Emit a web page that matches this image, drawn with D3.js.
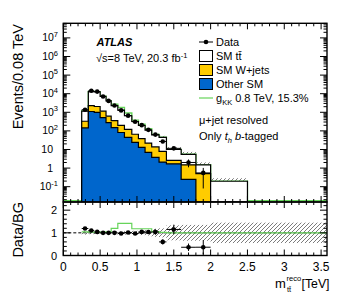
<!DOCTYPE html>
<html>
<head>
<meta charset="utf-8">
<script src="https://d3js.org/d3.v7.min.js"></script>
<style>
body { margin: 0; background: #fff; }
text { font-family: "Liberation Sans", Arial, Helvetica, sans-serif; }
</style>
</head>
<body>
<div id="chart"></div>
<script>
// bin edges in TeV (17 bins)
var edges = [0.25, 0.34, 0.42, 0.50, 0.58, 0.65, 0.74, 0.83, 0.93, 1.02, 1.11, 1.20, 1.30, 1.40, 1.60, 1.80, 2.00, 2.50];
// events / 0.08 TeV
var ttbar = [820, 10700, 10450, 5950, 3480, 1940, 1100, 530, 254, 157, 88, 47, 37, 7.4, 4.0, 1.0, 0.19];
var wjets = [185, 1200, 1050, 630, 340, 210, 118, 75, 42, 25, 15, 10, 5.9, 0.9, 1.25, 0.5, 0.005];
var other = [145, 1100, 1000, 520, 280, 150, 82, 45, 24, 13, 7, 3.8, 2.1, 1.7, 0.25, 0.004, 0.001];
var dataVals = [1370, 14300, 13000, 7100, 4100, 2300, 1260, 660, 310, 203, 114, 63, 27, 11.5, 2.0, 0.55, null];
var dataErr = [35, 114, 108, 80, 61, 46, 34, 24, 17, 13.5, 10, 7.5, 5, 2.1, 0.9, 0.47, null];
// relative syst. uncertainty of the background (hatched band)
var bandRel = [0.08, 0.06, 0.06, 0.06, 0.06, 0.07, 0.07, 0.08, 0.09, 0.10, 0.12, 0.18, 0.20, 0.33, 0.35, 0.35, 0.45];
var tailRel = 0.45;
// (BG + g_KK) / BG
var sigRatio = [1.04, 1.03, 1.03, 1.03, 1.04, 1.20, 1.42, 1.42, 1.18, 1.18, 1.18, 1.05, 1.02, 1.0, 1.0, 1.0, 1.0];
var xTicks = [0, 0.5, 1, 1.5, 2, 2.5, 3, 3.5];
var ratioTicks = [0, 1, 2];

var svg = d3.select("#chart").append("svg").attr("width", 357).attr("height", 302),
    pLeft = 63.3, pRight = 327, pTop = 23.3, pMid = 202, pBottom = 255.5,
    ymin = 0.015, ymax = 6.1e7, xmax = 3.58;

var x = d3.scaleLinear().domain([0, xmax]).range([pLeft, pRight]);
var y = d3.scaleLog().domain([ymin, ymax]).range([pMid, pTop]);
var yr = d3.scaleLinear().domain([0, 2.36]).range([pBottom, pMid]);

var bins = edges.slice(0, -1).map(function(e, i) {
  return {x0: e, x1: edges[i + 1], tt: ttbar[i], wj: wjets[i], ot: other[i],
          tot: ttbar[i] + wjets[i] + other[i], d: dataVals[i], de: dataErr[i],
          rel: bandRel[i], sig: sigRatio[i]};
});

var defs = svg.append("defs");
defs.append("pattern").attr("id", "hatch").attr("patternUnits", "userSpaceOnUse")
    .attr("width", 4).attr("height", 4)
  .append("path").attr("d", "M-1,1 l2,-2 M0,4 l4,-4 M3,5 l2,-2")
    .attr("stroke", "#444").attr("stroke-width", 0.7);
defs.append("clipPath").attr("id", "clipMain").append("rect")
    .attr("x", pLeft).attr("y", pTop).attr("width", pRight - pLeft).attr("height", pMid - pTop);
defs.append("clipPath").attr("id", "clipRatio").append("rect")
    .attr("x", pLeft).attr("y", pMid).attr("width", pRight - pLeft).attr("height", pBottom - pMid);

function cl(v) { return y(Math.max(v, ymin)); }

// step points for a series
function steps(fn) {
  var pts = bins.map(function(b) { return [b.x0, fn(b)]; });
  pts.push([edges[edges.length - 1], fn(bins[bins.length - 1])]);
  return pts;
}

var gm = svg.append("g").attr("clip-path", "url(#clipMain)");

// uncertainty band (behind stack)
gm.selectAll("rect.band").data(bins).enter().append("rect")
    .attr("x", function(b) { return x(b.x0); })
    .attr("width", function(b) { return x(b.x1) - x(b.x0); })
    .attr("y", function(b) { return cl(b.tot * (1 + b.rel)); })
    .attr("height", function(b) { return cl(b.tot * (1 - b.rel)) - cl(b.tot * (1 + b.rel)); })
    .attr("fill", "url(#hatch)");

// signal line in main panel (behind the stack, only the excess shows)
var sigPts = [[0, ymin]].concat(steps(function(b) { return b.tot * b.sig; }));
sigPts[sigPts.length - 1] = [edges[edges.length - 1], ymin];
sigPts.push([xmax, ymin]);
var line = d3.line().curve(d3.curveStepAfter)
    .x(function(p) { return x(p[0]); })
    .y(function(p) { return p[1] <= ymin ? pMid - 1.2 : y(p[1]); });
gm.append("path").attr("d", line(sigPts)).attr("fill", "none")
    .attr("stroke", "#66d45a").attr("stroke-width", 1.4);

var area = d3.area().curve(d3.curveStepAfter)
    .x(function(p) { return x(p[0]); })
    .y0(pMid + 2)
    .y1(function(p) { return cl(p[1]); });

var layers = [
  {fill: "#ffffff", fn: function(b) { return b.tot; }},
  {fill: "#ffcc00", fn: function(b) { return b.wj + b.ot; }},
  {fill: "#0066cc", fn: function(b) { return b.ot; }}
];
layers.forEach(function(l) {
  gm.append("path").attr("d", area(steps(l.fn)))
    .attr("fill", l.fill).attr("stroke", "#000").attr("stroke-width", 1.2);
});

// data points main
var dbins = bins.filter(function(b) { return b.d != null; });
var dm = gm.selectAll("g.dp").data(dbins).enter().append("g");
dm.append("line")
    .attr("x1", function(b) { return x(b.x0); }).attr("x2", function(b) { return x(b.x1); })
    .attr("y1", function(b) { return y(b.d); }).attr("y2", function(b) { return y(b.d); })
    .attr("stroke", "#000").attr("stroke-width", 1);
dm.append("line")
    .attr("x1", function(b) { return x((b.x0 + b.x1) / 2); }).attr("x2", function(b) { return x((b.x0 + b.x1) / 2); })
    .attr("y1", function(b) { return cl(b.d + b.de); }).attr("y2", function(b) { return cl(b.d - b.de); })
    .attr("stroke", "#000").attr("stroke-width", 1);
dm.append("circle")
    .attr("cx", function(b) { return x((b.x0 + b.x1) / 2); })
    .attr("cy", function(b) { return y(b.d); })
    .attr("r", 2.3).attr("fill", "#000");

// ratio panel
var gr = svg.append("g").attr("clip-path", "url(#clipRatio)");
var rb = bins.concat([{x0: edges[edges.length - 1], x1: xmax, rel: tailRel, sig: 1.0}]);
gr.selectAll("rect.rband").data(rb).enter().append("rect")
    .attr("x", function(b) { return x(b.x0); })
    .attr("width", function(b) { return x(b.x1) - x(b.x0); })
    .attr("y", function(b) { return yr(1 + b.rel); })
    .attr("height", function(b) { return yr(1 - b.rel) - yr(1 + b.rel); })
    .attr("fill", "url(#hatch)");
gr.append("line").attr("x1", pLeft).attr("x2", pRight).attr("y1", yr(1)).attr("y2", yr(1))
    .attr("stroke", "#000").attr("stroke-width", 1).attr("stroke-dasharray", "3,2");
var rpts = rb.map(function(b) { return [b.x0, b.sig]; });
rpts.push([xmax, 1.0]);
gr.append("path")
    .attr("d", d3.line().curve(d3.curveStepAfter)
      .x(function(p) { return x(p[0]); }).y(function(p) { return yr(p[1]); })(rpts))
    .attr("fill", "none").attr("stroke", "#66d45a").attr("stroke-width", 1.2);

var dr = gr.selectAll("g.rp").data(dbins).enter().append("g");
dr.append("line")
    .attr("x1", function(b) { return x(b.x0); }).attr("x2", function(b) { return x(b.x1); })
    .attr("y1", function(b) { return yr(b.d / b.tot); }).attr("y2", function(b) { return yr(b.d / b.tot); })
    .attr("stroke", "#000").attr("stroke-width", 1);
dr.append("line")
    .attr("x1", function(b) { return x((b.x0 + b.x1) / 2); }).attr("x2", function(b) { return x((b.x0 + b.x1) / 2); })
    .attr("y1", function(b) { return yr((b.d + b.de) / b.tot); })
    .attr("y2", function(b) { return yr(Math.max(0, (b.d - b.de) / b.tot)); })
    .attr("stroke", "#000").attr("stroke-width", 1);
dr.append("circle")
    .attr("cx", function(b) { return x((b.x0 + b.x1) / 2); })
    .attr("cy", function(b) { return yr(b.d / b.tot); })
    .attr("r", 2.3).attr("fill", "#000");

// frames and ticks
var axes = svg.append("g").attr("stroke", "#000").attr("fill", "none");
axes.append("rect").attr("x", pLeft).attr("y", pTop).attr("width", pRight - pLeft).attr("height", pMid - pTop).attr("stroke-width", 1.4);
axes.append("rect").attr("x", pLeft).attr("y", pMid).attr("width", pRight - pLeft).attr("height", pBottom - pMid).attr("stroke-width", 1.4);

var xMinor = d3.range(0, xmax, 0.1);
function xTickMarks(y0, y1) {
  xMinor.forEach(function(v) {
    var major = Math.abs(v * 2 - Math.round(v * 2)) < 1e-6;
    var len = major ? 6 : 3;
    axes.append("line").attr("x1", x(v)).attr("x2", x(v)).attr("y1", y1).attr("y2", y1 - len).attr("stroke-width", 1);
    axes.append("line").attr("x1", x(v)).attr("x2", x(v)).attr("y1", y0).attr("y2", y0 + len).attr("stroke-width", 1);
  });
}
xTickMarks(pTop, pMid);
xTickMarks(pMid, pBottom);

// log ticks main
for (var e = -2; e <= 7; e++) {
  for (var m = 1; m <= 9; m++) {
    var v = m * Math.pow(10, e);
    if (v < ymin || v > ymax) continue;
    var len = m === 1 ? 7 : 3.5;
    axes.append("line").attr("x1", pLeft).attr("x2", pLeft + len).attr("y1", y(v)).attr("y2", y(v)).attr("stroke-width", 1);
    axes.append("line").attr("x1", pRight).attr("x2", pRight - len).attr("y1", y(v)).attr("y2", y(v)).attr("stroke-width", 1);
  }
}
d3.range(0, 2.36, 0.2).forEach(function(v) {
  var major = Math.abs(v - Math.round(v)) < 1e-6;
  var len = major ? 7 : 3.5;
  axes.append("line").attr("x1", pLeft).attr("x2", pLeft + len).attr("y1", yr(v)).attr("y2", yr(v)).attr("stroke-width", 1);
  axes.append("line").attr("x1", pRight).attr("x2", pRight - len).attr("y1", yr(v)).attr("y2", yr(v)).attr("stroke-width", 1);
});

// tick labels
var labels = svg.append("g").attr("fill", "#000");
labels.selectAll("text.xt").data(xTicks).enter().append("text")
    .attr("x", function(d) { return x(d); }).attr("y", 271)
    .attr("text-anchor", "middle").attr("font-size", 12).text(function(d) { return d; });
labels.selectAll("text.rt").data(ratioTicks).enter().append("text")
    .attr("x", 57).attr("y", function(d) { return yr(d) + 4; })
    .attr("text-anchor", "end").attr("font-size", 11).text(function(d) { return d; });
var yExp = [-1, 0, 1, 2, 3, 4, 5, 6, 7];
yExp.forEach(function(ex) {
  var t = labels.append("text").attr("y", y(Math.pow(10, ex)) + 3.5).attr("font-size", 10.5).attr("text-anchor", "end");
  if (ex === 0) { t.attr("x", 53).text("1"); }
  else if (ex === 1) { t.attr("x", 53).text("10"); }
  else {
    t.attr("x", 58);
    t.append("tspan").text("10");
    t.append("tspan").attr("font-size", 7.5).attr("dy", -4.5).text(ex);
  }
});

// axis titles
svg.append("text").attr("transform", "translate(23,24) rotate(-90)")
    .attr("text-anchor", "end").attr("font-size", 14.5).text("Events/0.08 TeV");
svg.append("text").attr("transform", "translate(23,202) rotate(-90)")
    .attr("text-anchor", "end").attr("font-size", 14.5).text("Data/BG");
var xt = svg.append("g");
xt.append("text").attr("x", 275).attr("y", 288).attr("font-size", 13).text("m");
xt.append("text").attr("x", 286.5).attr("y", 281).attr("font-size", 7.5).text("reco");
xt.append("text").attr("x", 287).attr("y", 292).attr("font-size", 7.5).text("t\u0074\u0304");
xt.append("text").attr("x", 301.5).attr("y", 288).attr("font-size", 12.3).text("[TeV]");

// ATLAS label
svg.append("text").attr("x", 96.5).attr("y", 46).attr("font-size", 11)
    .attr("font-weight", "bold").attr("font-style", "italic").text("ATLAS");
var lum = svg.append("text").attr("x", 96).attr("y", 62).attr("font-size", 11);
lum.append("tspan").text("\u221As=8 TeV, 20.3 fb");
lum.append("tspan").attr("font-size", 7.5).attr("dy", -4.5).text("-1");

// legend
var leg = svg.append("g").attr("font-size", 11);
leg.append("line").attr("x1", 199).attr("x2", 213).attr("y1", 42).attr("y2", 42).attr("stroke", "#000").attr("stroke-width", 1);
leg.append("circle").attr("cx", 206).attr("cy", 42).attr("r", 2.3).attr("fill", "#000");
leg.append("text").attr("x", 216).attr("y", 46).text("Data");
var boxes = [
  {c: "#ffffff", t: "SM t\u0074\u0304", yy: 56},
  {c: "#ffcc00", t: "SM W+jets", yy: 70},
  {c: "#0066cc", t: "Other SM", yy: 84}
];
boxes.forEach(function(b) {
  leg.append("rect").attr("x", 199.5).attr("y", b.yy - 5.5).attr("width", 13).attr("height", 11)
      .attr("fill", b.c).attr("stroke", "#000").attr("stroke-width", 1);
  leg.append("text").attr("x", 216).attr("y", b.yy + 4).text(b.t);
});
leg.append("line").attr("x1", 199).attr("x2", 213).attr("y1", 98).attr("y2", 98).attr("stroke", "#66d45a").attr("stroke-width", 1.2);
var gk = leg.append("text").attr("x", 216).attr("y", 102);
gk.append("tspan").text("g");
gk.append("tspan").attr("font-size", 7.5).attr("dy", 3).text("KK");
gk.append("tspan").attr("dy", -3).text(" 0.8 TeV, 15.3%");

svg.append("text").attr("x", 199).attr("y", 124).attr("font-size", 11).text("\u03bc+jet resolved");
var only = svg.append("text").attr("x", 199).attr("y", 140).attr("font-size", 11);
only.append("tspan").text("Only ");
only.append("tspan").attr("font-style", "italic").text("t");
only.append("tspan").attr("font-style", "italic").attr("font-size", 7.5).attr("dy", 2.5).text("h");
only.append("tspan").attr("dy", -2.5).text(" ");
only.append("tspan").attr("font-style", "italic").text("b");
only.append("tspan").text("-tagged");
</script>
</body>
</html>
